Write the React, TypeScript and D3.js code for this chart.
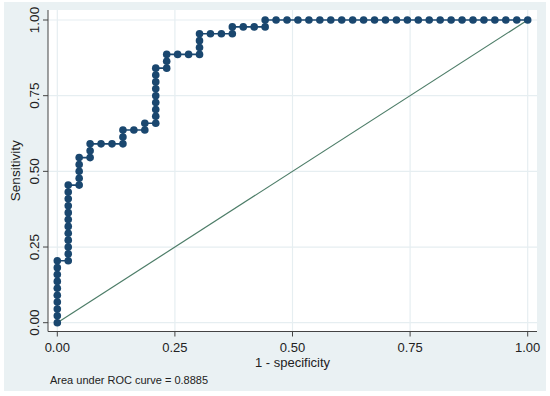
import React from "react";
import * as d3 from "d3";

const W = 550;
const H = 396;

// ROC points as counts: false positives out of 43 negatives, true positives out of 44 positives
const nNeg = 43;
const nPos = 44;
const fpCounts = [
  0, 0, 0, 0, 0, 0, 0, 0, 0, 0,
  1, 1, 1, 1, 1, 1, 1, 1, 1, 1, 1, 1,
  2, 2, 2, 2, 2,
  3, 3, 3,
  4, 5, 6, 6, 6,
  7, 8, 8,
  9, 9, 9, 9, 9, 9, 9, 9, 9,
  10, 10, 10,
  11, 12, 13, 13, 13, 13,
  14, 15, 16, 16,
  17, 18, 19, 19,
  20, 21, 22, 23, 24, 25, 26, 27, 28, 29, 30, 31, 32, 33, 34, 35, 36, 37, 38, 39, 40, 41, 42, 43,
];
const tpCounts = [
  0, 1, 2, 3, 4, 5, 6, 7, 8, 9,
  9, 10, 11, 12, 13, 14, 15, 16, 17, 18, 19, 20,
  20, 21, 22, 23, 24,
  24, 25, 26,
  26, 26, 26, 27, 28,
  28, 28, 29,
  29, 30, 31, 32, 33, 34, 35, 36, 37,
  37, 38, 39,
  39, 39, 39, 40, 41, 42,
  42, 42, 42, 43,
  43, 43, 43, 44,
  44, 44, 44, 44, 44, 44, 44, 44, 44, 44, 44, 44, 44, 44, 44, 44, 44, 44, 44, 44, 44, 44, 44, 44,
];
const xTicks = [0, 0.25, 0.5, 0.75, 1];
const yTicks = [0, 0.25, 0.5, 0.75, 1];
const xTitle = "1 - specificity";
const yTitle = "Sensitivity";
const note = "Area under ROC curve = 0.8885";

const NAVY = "#1a476f";
const REF = "#4d7d68";
const BG = "#eaf1f3";
const GRID = "#e6eef1";
const FONT = "'Liberation Sans', Arial, sans-serif";

// plot region
const left = 48;
const right = 537;
const top = 10;
const bottom = 331.5;

export default function App() {
  const x = d3.scaleLinear().domain([0, 1]).range([57.3, 527.7]);
  const y = d3.scaleLinear().domain([0, 1]).range([322.7, 20]);

  const pts = fpCounts.map((f, i) => [f / nNeg, tpCounts[i] / nPos] as [number, number]);
  const line = d3
    .line<[number, number]>()
    .x((d) => x(d[0]))
    .y((d) => y(d[1]));

  return (
    <svg
      width={W}
      height={H}
      style={{ position: "absolute", left: 0, top: 0, background: "#fff" }}
      fontFamily={FONT}
    >
      <rect x={4} y={2} width={542} height={389} fill={BG} />
      <rect x={left} y={top} width={right - left} height={bottom - top} fill="#fff" />

      {/* grid */}
      {yTicks.map((t) => (
        <line key={"gy" + t} x1={left} x2={right} y1={y(t)} y2={y(t)} stroke={GRID} strokeWidth={1.2} />
      ))}
      {xTicks.map((t) => (
        <line key={"gx" + t} x1={x(t)} x2={x(t)} y1={top} y2={bottom} stroke={GRID} strokeWidth={1.2} />
      ))}

      {/* reference line */}
      <path d={line([[0, 0], [1, 1]]) || ""} stroke={REF} strokeWidth={1.2} fill="none" />

      {/* ROC curve */}
      <path d={line(pts) || ""} stroke={NAVY} strokeWidth={1.6} fill="none" />
      {pts.map((d, i) => (
        <circle key={i} cx={x(d[0])} cy={y(d[1])} r={3.8} fill={NAVY} />
      ))}

      {/* axes */}
      <line x1={left} x2={left} y1={top} y2={bottom} stroke="#444" strokeWidth={1} />
      <line x1={left} x2={right} y1={bottom} y2={bottom} stroke="#444" strokeWidth={1} />
      {yTicks.map((t) => (
        <g key={"ty" + t}>
          <line x1={left - 5} x2={left} y1={y(t)} y2={y(t)} stroke="#444" />
          <text
            transform={`translate(38.5, ${y(t)}) rotate(-90)`}
            textAnchor="middle"
            fontSize={13.5}
            fill="#222"
          >
            {d3.format(".2f")(t)}
          </text>
        </g>
      ))}
      {xTicks.map((t) => (
        <g key={"tx" + t}>
          <line x1={x(t)} x2={x(t)} y1={bottom} y2={bottom + 5} stroke="#444" />
          <text x={x(t)} y={352} textAnchor="middle" fontSize={13} fill="#222">
            {d3.format(".2f")(t)}
          </text>
        </g>
      ))}

      <text x={x(0.5)} y={367} textAnchor="middle" fontSize={13} fill="#222">
        {xTitle}
      </text>
      <text
        transform={`translate(20, ${(top + bottom) / 2}) rotate(-90)`}
        textAnchor="middle"
        fontSize={13.5}
        fill="#222"
      >
        {yTitle}
      </text>
      <text x={50} y={384} fontSize={11} fill="#222">
        {note}
      </text>
    </svg>
  );
}
